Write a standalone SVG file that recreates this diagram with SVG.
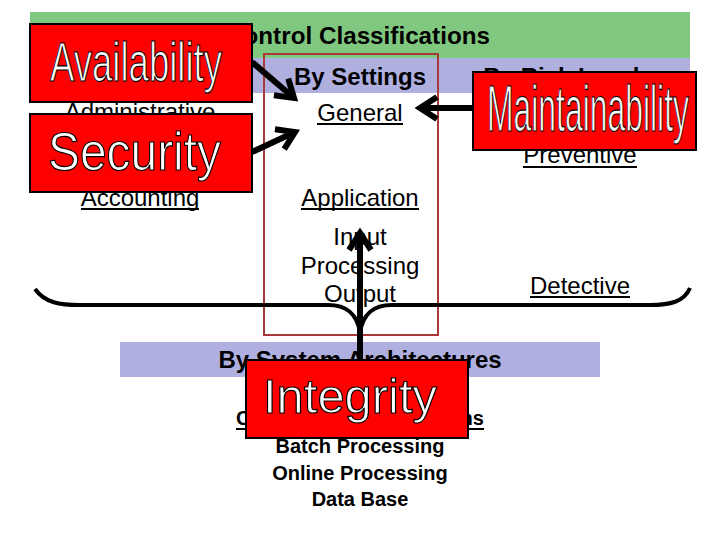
<svg xmlns="http://www.w3.org/2000/svg" width="720" height="540" viewBox="0 0 720 540">
<style>
.t{font-family:"Liberation Sans",Arial,sans-serif;font-size:24px;fill:#000;text-anchor:middle}
.b{font-weight:bold}
.s{font-size:20px}
.u{stroke:#000;stroke-width:1.8}
.box{fill:#ff0000;stroke:#000;stroke-width:2}
.bt{font-family:"Liberation Sans",Arial,sans-serif;fill:#fff;stroke:#000;stroke-width:1.2}
.ar{stroke:#000;stroke-width:6;fill:none}
</style>
<defs>
<marker id="ah" markerUnits="userSpaceOnUse" markerWidth="40" markerHeight="40" viewBox="-30 -20 40 40" refX="0" refY="0" orient="auto">
<path d="M-17,-11 L0,0 L-17,11" fill="none" stroke="#000" stroke-width="6"/>
</marker>
</defs>
<rect width="720" height="540" fill="#fff"/>
<g id="background">
<rect x="30" y="12" width="660" height="46" fill="#80c880"/>
<rect x="30" y="58" width="660" height="35" fill="#b0b0e0"/>
<rect x="120" y="342" width="480" height="35" fill="#b0b0e0"/>
<rect x="264" y="54" width="174" height="281" fill="none" stroke="#a83a3a" stroke-width="2"/>
</g>
<g id="labels">
<text class="t b" x="358" y="44" textLength="264" lengthAdjust="spacingAndGlyphs">Control Classifications</text>
<text class="t b" x="360" y="85">By Settings</text>
<text class="t b" x="568" y="85">By Risk Levels</text>
<text class="t" x="140" y="120">Administrative</text>
<line class="u" x1="65" y1="124" x2="215" y2="124"/>
<text class="t" x="360" y="121">General</text>
<line class="u" x1="317" y1="124" x2="403" y2="124"/>
<text class="t" x="580" y="163">Preventive</text>
<line class="u" x1="523" y1="167" x2="637" y2="167"/>
<text class="t" x="140" y="206">Accounting</text>
<line class="u" x1="81" y1="209" x2="199" y2="209"/>
<text class="t" x="360" y="206">Application</text>
<line class="u" x1="301" y1="209" x2="419" y2="209"/>
<text class="t" x="360" y="245">Input</text>
<text class="t" x="360" y="274">Processing</text>
<text class="t" x="360" y="302">Output</text>
<text class="t" x="580" y="294">Detective</text>
<line class="u" x1="530" y1="297" x2="630" y2="297"/>
<text class="t b" x="360" y="368">By System Architectures</text>
<text class="t b s" x="360" y="425">Computer Based Systems</text>
<line class="u" x1="236" y1="429" x2="484" y2="429"/>
<text class="t b s" x="360" y="453">Batch Processing</text>
<text class="t b s" x="360" y="480">Online Processing</text>
<text class="t b s" x="360" y="506">Data Base</text>
</g>
<g id="connectors">
<path d="M35,289 C45,303 60,305 80,305 L328,305 C345,305 357,312 360,333 C363,312 375,305 392,305 L650,305 C670,305 684,302 690,288" fill="none" stroke="#000" stroke-width="4"/>
<line class="ar" x1="252" y1="62" x2="294" y2="98" marker-end="url(#ah)"/>
<line class="ar" x1="252" y1="152" x2="295" y2="132" marker-end="url(#ah)"/>
<line class="ar" x1="473" y1="108" x2="420" y2="108" marker-end="url(#ah)"/>
<line class="ar" x1="360" y1="362" x2="360" y2="233" marker-end="url(#ah)"/>
</g>
<g id="availability">
<rect class="box" x="30" y="24" width="222" height="78"/>
<text class="bt" x="50" y="81" font-size="56" textLength="172" lengthAdjust="spacingAndGlyphs">Availability</text>
</g>
<g id="security">
<rect class="box" x="30" y="114" width="222" height="78"/>
<text class="bt" x="48" y="170" font-size="54" textLength="173" lengthAdjust="spacingAndGlyphs">Security</text>
</g>
<g id="maintainability">
<rect class="box" x="473" y="72" width="223" height="78"/>
<text class="bt" x="487" y="131" font-size="64" textLength="202" lengthAdjust="spacingAndGlyphs">Maintainability</text>
</g>
<g id="integrity">
<rect class="box" x="246" y="360" width="222" height="78"/>
<text class="bt" x="263" y="413" font-size="49" textLength="174" lengthAdjust="spacingAndGlyphs">Integrity</text>
</g>
</svg>
